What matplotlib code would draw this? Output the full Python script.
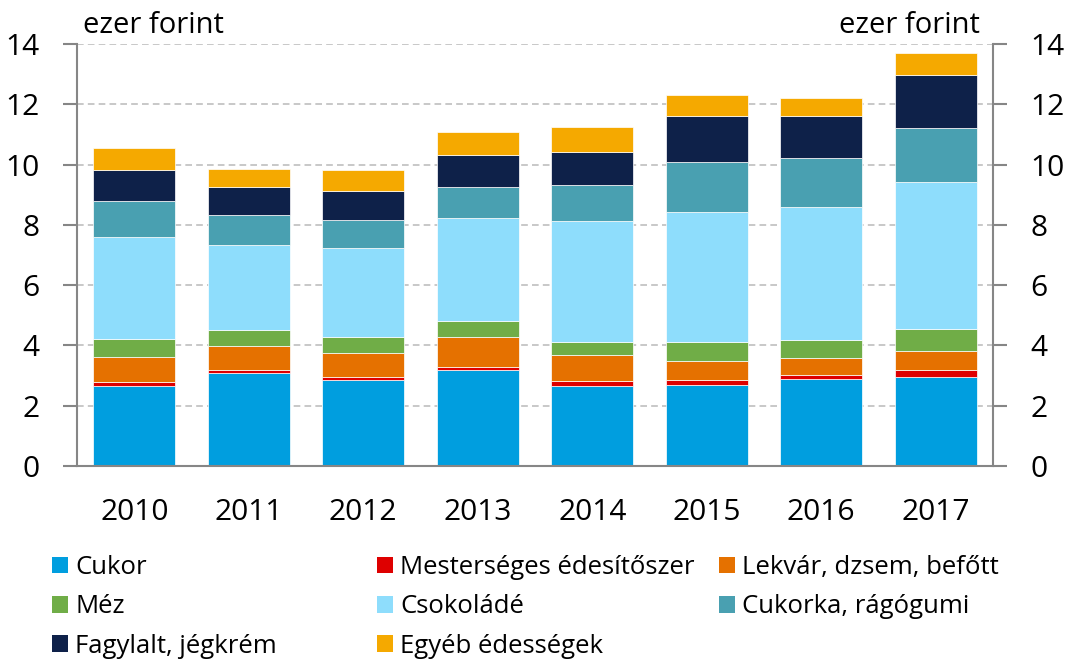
import numpy as np
import matplotlib
matplotlib.use('Agg')
import matplotlib.pyplot as plt
from matplotlib.patches import Patch

plt.rcParams['font.family'] = ['Open Sans', 'DejaVu Sans']

years = ['2010', '2011', '2012', '2013', '2014', '2015', '2016', '2017']

# ezer forint / fő / év
cukor = [2.66, 3.09, 2.86, 3.18, 2.66, 2.70, 2.89, 2.96]
mesterseges = [0.14, 0.11, 0.10, 0.12, 0.16, 0.16, 0.14, 0.23]
lekvar = [0.83, 0.79, 0.78, 0.99, 0.85, 0.61, 0.56, 0.62]
mez = [0.59, 0.53, 0.54, 0.53, 0.45, 0.65, 0.59, 0.74]
csokolade = [3.37, 2.80, 2.94, 3.40, 4.00, 4.32, 4.42, 4.86]
cukorka = [1.19, 1.01, 0.95, 1.05, 1.21, 1.66, 1.62, 1.80]
fagylalt = [1.05, 0.92, 0.95, 1.06, 1.09, 1.51, 1.38, 1.77]
egyeb = [0.73, 0.59, 0.71, 0.76, 0.83, 0.70, 0.60, 0.73]

series = [
    ('Cukor', cukor, '#009EDF'),
    ('Mesterséges édesítőszer', mesterseges, '#DE0000'),
    ('Lekvár, dzsem, befőtt', lekvar, '#E57100'),
    ('Méz', mez, '#70AD47'),
    ('Csokoládé', csokolade, '#8EDDFC'),
    ('Cukorka, rágógumi', cukorka, '#49A0B1'),
    ('Fagylalt, jégkrém', fagylalt, '#0E2149'),
    ('Egyéb édességek', egyeb, '#F5A900'),
]

W, H = 1065, 664
fig = plt.figure(figsize=(W / 100, H / 100), dpi=100)
ax = fig.add_axes([77 / W, 1 - 466 / H, (993 - 77) / W, (466 - 44) / H])

x = np.arange(len(years))
bottom = np.zeros(len(years))
for name, vals, col in series:
    ax.bar(x, vals, width=0.716, bottom=bottom, color=col,
           edgecolor='white', linewidth=0.5, label=name, zorder=2)
    bottom += np.array(vals)

ax.set_xlim(-0.5, len(years) - 0.5)
ax.set_ylim(0, 14)
ax.set_yticks(range(0, 15, 2))
ax.set_xticks(x)
ax.set_xticklabels(years)

ax.yaxis.grid(True, linestyle=(0, (4, 2.5)), color='#BFBFBF', linewidth=1.2)
ax.set_axisbelow(True)

for side in ['left', 'right', 'bottom']:
    ax.spines[side].set_color('#868686')
    ax.spines[side].set_linewidth(1.5)
ax.spines['top'].set_visible(False)

ax.yaxis.set_ticks_position('both')
ax.tick_params(axis='y', which='both', direction='out', length=10, width=1.5,
               color='#868686', labelsize=21.5, pad=17, labelright=True)
ax.tick_params(axis='x', length=0, labelsize=21.5, pad=23)

fig.text(83 / W, 1 - 33 / H, 'ezer forint', fontsize=21, ha='left', va='baseline')
fig.text(980 / W, 1 - 33 / H, 'ezer forint', fontsize=21, ha='right', va='baseline')

# legend, three columns placed like the original
columns = [[0, 3, 6], [1, 4, 7], [2, 5]]
col_x = [52, 377, 719]
for idx, cx in zip(columns, col_x):
    handles = [Patch(facecolor=series[i][2], edgecolor='none') for i in idx]
    labels = [series[i][0] for i in idx]
    fig.legend(handles, labels, loc='upper left',
               bbox_to_anchor=(cx / W, 1 - 555 / H), frameon=False,
               fontsize=18.5, handlelength=0.62, handleheight=0.62,
               handletextpad=0.28, labelspacing=0.56, borderpad=0,
               borderaxespad=0)

fig.savefig('out.png', dpi=100)
